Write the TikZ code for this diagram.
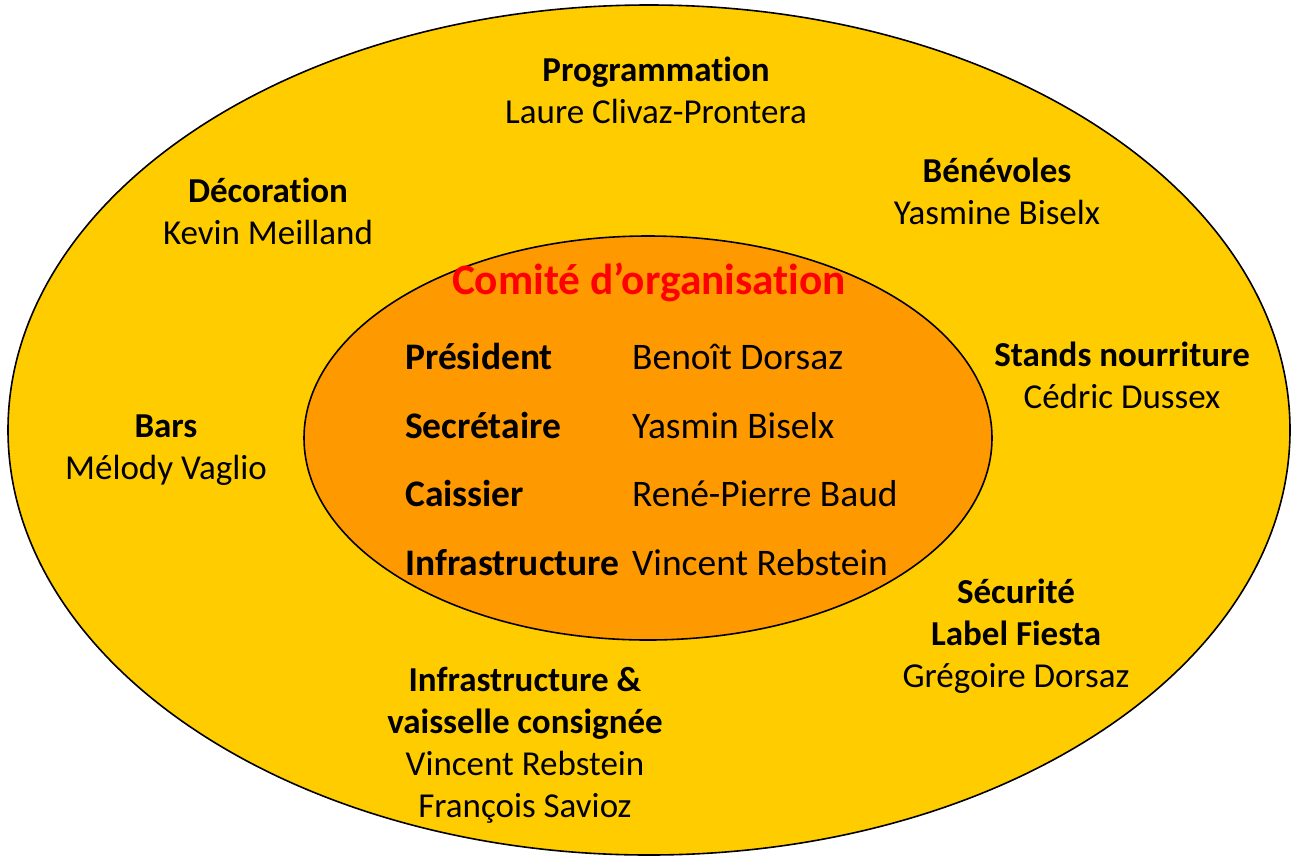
\documentclass[tikz,border=0pt]{standalone}
\usepackage{fontspec}
\setmainfont{Carlito}[RawFeature=-liga]
\definecolor{outerY}{HTML}{FFCC00}
\definecolor{innerO}{HTML}{FF9900}
\definecolor{titleR}{HTML}{FF0000}
\tikzset{
  ring/.style={draw=black, line width=1.6pt},
  lbl/.style={align=center, anchor=base, inner sep=0pt, font=\fontsize{35}{42}\selectfont},
  role/.style={anchor=base west, inner sep=0pt, font=\fontsize{37.5}{42}\selectfont\bfseries},
  who/.style={anchor=base west, inner sep=0pt, font=\fontsize{37.5}{42}\selectfont},
}
\begin{document}
\begin{tikzpicture}[x=1pt,y=-1pt]
\useasboundingbox (0,0) rectangle (1295,857);
\path[ring, fill=outerY] (649,430) ellipse [x radius=641, y radius=425];
\path[ring, fill=innerO] (648,438) ellipse [x radius=344, y radius=202];

\node[anchor=base, inner sep=0pt, text=titleR, font=\fontsize{43.4}{50}\selectfont\bfseries] (title) at (649,294) {Comité d’organisation};

\node[role] (r1) at (405,369) {Président};
\node[role] (r2) at (405,438) {Secrétaire};
\node[role] (r3) at (405,506) {Caissier};
\node[role] (r4) at (405,575) {Infrastructure};
\node[who] (n1) at (632,369) {Benoît Dorsaz};
\node[who] (n2) at (632,438) {Yasmin Biselx};
\node[who] (n3) at (632,506) {René-Pierre Baud};
\node[who] (n4) at (632,575) {Vincent Rebstein};

\node[lbl] (prog) at (656,123) {\textbf{Programmation}\\Laure Clivaz-Prontera};
\node[lbl] (deco) at (268,244) {\textbf{Décoration}\\Kevin Meilland};
\node[lbl] (bene) at (997,224) {\textbf{Bénévoles}\\Yasmine Biselx};
\node[lbl] (stand) at (1122,408) {\textbf{Stands nourriture}\\Cédric Dussex};
\node[lbl] (bars) at (166,479) {\textbf{Bars}\\Mélody Vaglio};
\node[lbl] (secu) at (1016,687) {\textbf{Sécurité}\\\textbf{Label Fiesta}\\Grégoire Dorsaz};
\node[lbl] (infra) at (525,817) {\textbf{Infrastructure \&}\\\textbf{vaisselle consignée}\\Vincent Rebstein\\François Savioz};
\end{tikzpicture}
\end{document}
